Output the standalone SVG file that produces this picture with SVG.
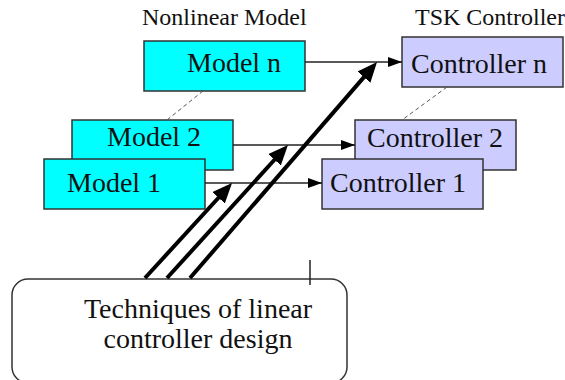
<svg xmlns="http://www.w3.org/2000/svg" width="565" height="380" viewBox="0 0 565 380">
<style>
.model{fill:#00FFFF;stroke:#333;stroke-width:1.5}
.ctrl{fill:#CCCCFF;stroke:#333;stroke-width:1.5}
.big{font-family:"Liberation Serif",serif;font-size:28px;fill:#111}
.lbl{font-family:"Liberation Serif",serif;font-size:24px;fill:#111}
.thin{stroke:#222;stroke-width:1.5;fill:none;marker-end:url(#ah)}
.thick{stroke:#000;stroke-width:4;fill:none;marker-end:url(#bh)}
.dash{stroke:#555;stroke-width:1;stroke-dasharray:4 3;fill:none}
</style>
<defs>
<marker id="ah" markerUnits="userSpaceOnUse" viewBox="0 0 14 10" markerWidth="14" markerHeight="10" refX="14" refY="5" orient="auto"><path d="M0,0 L14,5 L0,10 z" fill="#000"/></marker>
<marker id="bh" markerUnits="userSpaceOnUse" viewBox="0 0 20 17" markerWidth="20" markerHeight="17" refX="1" refY="8.5" orient="auto"><path d="M0,0 L20,8.5 L0,17 z" fill="#000"/></marker>
</defs>
<text class="lbl" x="142" y="25">Nonlinear Model</text>
<text class="lbl" x="415" y="25">TSK Controller</text>
<g id="design">
<rect x="12" y="279" width="335" height="104" rx="16" ry="16" fill="#fff" stroke="#333" stroke-width="1.5"/>
<text class="big" x="198" y="318" text-anchor="middle">Techniques of linear</text>
<text class="big" x="198" y="348" text-anchor="middle">controller design</text>
</g>
<g id="model-n"><rect class="model" x="144" y="41" width="161" height="50"/><text class="big" x="187" y="72">Model n</text></g>
<g id="model-2"><rect class="model" x="72" y="120" width="161" height="50"/><text class="big" x="107" y="146">Model 2</text></g>
<g id="model-1"><rect class="model" x="44" y="159" width="161" height="50"/><text class="big" x="67" y="192">Model 1</text></g>
<g id="ctrl-n"><rect class="ctrl" x="402" y="37" width="161" height="50"/><text class="big" x="411" y="73">Controller n</text></g>
<g id="ctrl-2"><rect class="ctrl" x="355" y="120" width="161" height="50"/><text class="big" x="367" y="147">Controller 2</text></g>
<g id="ctrl-1"><rect class="ctrl" x="322" y="159" width="161" height="50"/><text class="big" x="330" y="192">Controller 1</text></g>
<g id="connectors">
<line class="dash" x1="203" y1="91" x2="167" y2="120"/>
<line class="dash" x1="447" y1="87" x2="402" y2="120"/>
<line class="thin" x1="305" y1="62" x2="402" y2="62"/>
<line class="thin" x1="233" y1="145" x2="355" y2="145"/>
<line class="thin" x1="205" y1="183" x2="322" y2="183"/>
<line class="thick" x1="145" y1="278" x2="219.2" y2="197"/>
<line class="thick" x1="167" y1="278" x2="275.2" y2="159"/>
<line class="thick" x1="190" y1="278" x2="364.6" y2="76.4"/>
<line x1="310" y1="260" x2="310" y2="285" stroke="#222" stroke-width="1.5"/>
</g>
</svg>
